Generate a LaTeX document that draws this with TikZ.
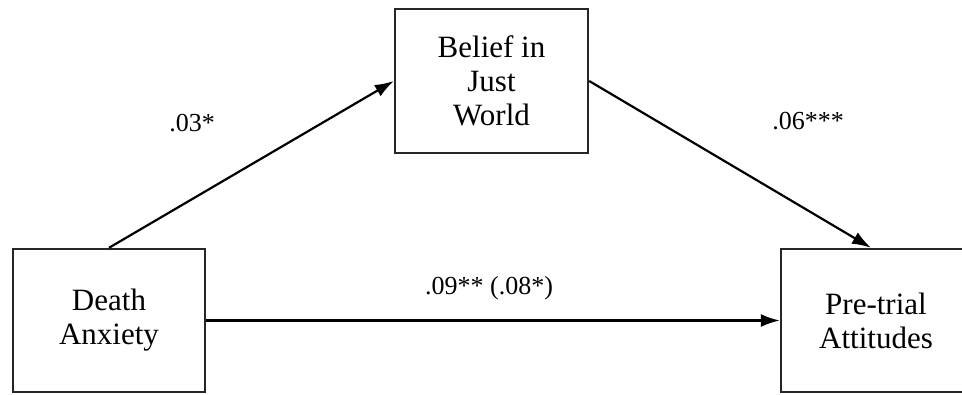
\documentclass[tikz,border=0pt]{standalone}
\usepackage{fontspec}
\setmainfont{Liberation Serif}
\usetikzlibrary{arrows.meta}
\begin{document}
\begin{tikzpicture}[x=1pt,y=-1pt,
  var/.style={draw=black!85,line width=2.4pt,fill=white,align=center,inner sep=0pt,
    font=\fontsize{31}{34}\selectfont},
  path/.style={line width=2.2pt,-{Latex[length=19pt,width=13pt]}},
  coef/.style={font=\fontsize{26}{30}\selectfont,inner sep=0pt}]
\useasboundingbox (0,0) rectangle (962,394);
\node[var,minimum width=192pt,minimum height=143pt] (da) at (109,320.5) {Death\\Anxiety};
\node[var,minimum width=193pt,minimum height=144pt] (bjw) at (491.5,81) {Belief in\\Just\\World};
\node[var,minimum width=190pt,minimum height=143pt] (pta) at (876,320.5) {Pre-trial\\Attitudes};
\draw[path] (da.north) -- (bjw.west);
\draw[path] (bjw.east) -- ([xshift=-5pt]pta.north);
\draw[path] (da.east) -- (pta.west);
\node[coef] (c1) at (192,123) {.03*};
\node[coef] (c2) at (808,121) {.06***};
\node[coef] (c3) at (489,288) {.09** (.08*)};
\end{tikzpicture}
\end{document}
